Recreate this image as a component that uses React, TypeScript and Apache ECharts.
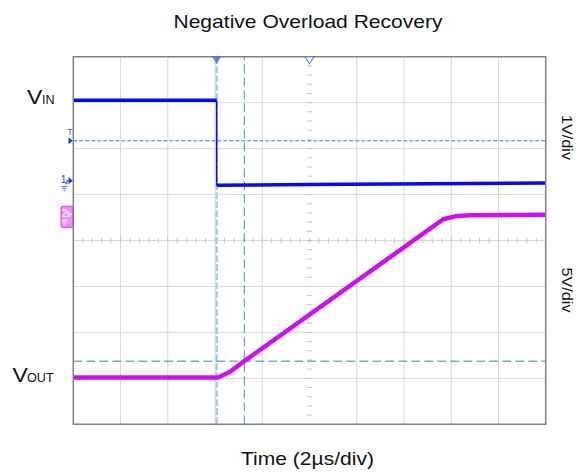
import React, { useEffect, useRef } from "react";
import * as echarts from "echarts";

// Horizontal: 2 µs/div, 10 divisions, 0 µs at screen centre
const timeRange = [-10, 10];
const timeDiv = 2;
// Channel 1 (VIN): 1 V/div, ground marker 1.3 div above centre
const vinRange = [-5.3, 2.7];
// Channel 2 (VOUT): 5 V/div, ground marker 0.57 div above centre
const voutRange = [-22.85, 17.15];
const voutDiv = 5;

// Channel 1 trace (µs, V)
const vinTime = [-10, -3.93, -3.93, 0, 10];
const vinVolts = [1.75, 1.75, -0.1, -0.08, -0.05];

// Channel 2 trace (µs, V)
const voutTime = [-10, -3.86, -3.36, -2.76, 5.66, 6.16, 6.8, 10];
const voutVolts = [-17.75, -17.75, -17.14, -15.98, -0.54, -0.22, -0.1, -0.05];

// Trigger and cursor settings
const triggerTime = -3.93;
const cursorTime = -2.76;
const triggerLevel = 0.87; // V, channel 1
const cursorLevel = -15.98; // V, channel 2

const FONT = "'Liberation Sans', Arial, sans-serif";
const GRID_COLOR = "#d9d9d9";
const VIN_COLOR = "#0808f2";
const VOUT_COLOR = "#cc10ee";
const MARK_BLUE = "#2a6fe0";

const zip = (xs: number[], ys: number[]) => xs.map((x, i) => [x, ys[i]]);

function textEl(
  text: string,
  x: number,
  y: number,
  size: number,
  opts: { align?: string; scaleX?: number; rotation?: number; fill?: string } = {}
) {
  const align = opts.align ?? "center";
  return {
    type: "text",
    x,
    y,
    scaleX: opts.scaleX ?? 1,
    rotation: opts.rotation ?? 0,
    silent: true,
    style: {
      text,
      x: 0,
      y: 0,
      fill: opts.fill ?? "#111",
      fontSize: size,
      fontFamily: FONT,
      align,
      textAlign: align,
      verticalAlign: "middle",
      textVerticalAlign: "middle",
    },
  };
}

export default function App() {
  const ref = useRef<HTMLDivElement>(null);

  useEffect(() => {
    const chart = echarts.init(ref.current!, null, { renderer: "svg" });
    const vinPoints = zip(vinTime, vinVolts);

    const option: any = {
      animation: false,
      backgroundColor: "#ffffff",
      grid: {
        left: 73.3,
        top: 56.7,
        width: 472.4,
        height: 367.6,
        show: true,
        borderColor: "#808080",
        borderWidth: 1.5,
        backgroundColor: "transparent",
        z: 10,
      },
      xAxis: {
        type: "value",
        min: timeRange[0],
        max: timeRange[1],
        interval: timeDiv,
        show: false,
      },
      yAxis: [
        { type: "value", min: vinRange[0], max: vinRange[1], interval: 1, show: false },
        { type: "value", min: voutRange[0], max: voutRange[1], interval: voutDiv, show: false },
      ],
      series: [
        {
          // graticule: division lines plus minor ticks along the centre lines
          type: "custom",
          yAxisIndex: 0,
          silent: true,
          z: 0,
          data: [[0, 0]],
          renderItem: (params: any, api: any) => {
            const children: any[] = [];
            const yTop = api.coord([0, vinRange[1]])[1];
            const yBot = api.coord([0, vinRange[0]])[1];
            const xL = api.coord([timeRange[0], 0])[0];
            const xR = api.coord([timeRange[1], 0])[0];
            const line = (x1: number, y1: number, x2: number, y2: number, color: string) =>
              children.push({
                type: "line",
                shape: { x1, y1, x2, y2 },
                style: { stroke: color, lineWidth: 1 },
              });
            for (let i = 1; i < 10; i++) {
              if (i === 5) continue;
              const x = api.coord([timeRange[0] + i * timeDiv, 0])[0];
              line(x, yTop, x, yBot, GRID_COLOR);
            }
            for (let j = 1; j < 8; j++) {
              const y = api.coord([0, vinRange[0] + j])[1];
              line(xL, y, xR, y, GRID_COLOR);
            }
            const xc = api.coord([0, 0])[0];
            const yc = api.coord([0, vinRange[0] + 4])[1];
            for (let k = 1; k < 50; k++) {
              const x = api.coord([timeRange[0] + (k * timeDiv) / 5, 0])[0];
              line(x, yc - 2.5, x, yc + 2.5, "#c4c4c4");
            }
            for (let k = 1; k < 40; k++) {
              const y = api.coord([0, vinRange[0] + k / 5])[1];
              line(xc - 2.5, y, xc + 2.5, y, "#c4c4c4");
            }
            return { type: "group", children };
          },
        },
        {
          name: "trigger position",
          type: "line",
          yAxisIndex: 0,
          z: 1,
          silent: true,
          symbol: "none",
          data: [
            [triggerTime, vinRange[0]],
            [triggerTime, vinRange[1]],
          ],
          lineStyle: { color: "#a9c9f5", width: 2.5, type: [7, 2] },
        },
        {
          name: "time cursor",
          type: "line",
          yAxisIndex: 0,
          z: 1,
          silent: true,
          symbol: "none",
          data: [
            [cursorTime, vinRange[0]],
            [cursorTime, vinRange[1]],
          ],
          lineStyle: { color: "#3d86ea", width: 1, type: [9, 4] },
        },
        {
          name: "trigger level",
          type: "line",
          yAxisIndex: 0,
          z: 1,
          silent: true,
          symbol: "none",
          data: [
            [timeRange[0], triggerLevel],
            [timeRange[1], triggerLevel],
          ],
          lineStyle: { color: "#6fa6f0", width: 1.5, type: [4, 2] },
        },
        {
          name: "level cursor",
          type: "line",
          yAxisIndex: 1,
          z: 1,
          silent: true,
          symbol: "none",
          data: [
            [timeRange[0], cursorLevel],
            [timeRange[1], cursorLevel],
          ],
          lineStyle: { color: "#3a7ade", width: 1, type: [9, 4] },
        },
        {
          // VIN high level before the step
          name: "VIN",
          type: "line",
          yAxisIndex: 0,
          z: 3,
          symbol: "none",
          data: vinPoints.slice(0, 2),
          lineStyle: { color: VIN_COLOR, width: 3.5 },
        },
        {
          // fast falling edge, thin on screen
          name: "VIN edge",
          type: "line",
          yAxisIndex: 0,
          z: 3,
          symbol: "none",
          data: vinPoints.slice(1, 3),
          lineStyle: { color: VIN_COLOR, width: 1.5 },
        },
        {
          // VIN low level after the step
          name: "VIN low",
          type: "line",
          yAxisIndex: 0,
          z: 3,
          symbol: "none",
          data: vinPoints.slice(2),
          lineStyle: { color: VIN_COLOR, width: 3.5 },
        },
        {
          name: "VOUT",
          type: "line",
          yAxisIndex: 1,
          z: 3,
          symbol: "none",
          data: zip(voutTime, voutVolts),
          lineStyle: { color: VOUT_COLOR, width: 4.5 },
        },
        {
          name: "trigger marker",
          type: "scatter",
          yAxisIndex: 0,
          z: 12,
          clip: false,
          silent: true,
          symbol: "triangle",
          symbolRotate: 180,
          symbolSize: [9, 7],
          symbolOffset: [0, 3.5],
          data: [[triggerTime, vinRange[1]]],
          itemStyle: { color: MARK_BLUE },
        },
        {
          name: "delay marker",
          type: "scatter",
          yAxisIndex: 0,
          z: 12,
          clip: false,
          silent: true,
          symbol: "triangle",
          symbolRotate: 180,
          symbolSize: [9, 7],
          symbolOffset: [0, 3.5],
          data: [[0, vinRange[1]]],
          itemStyle: { color: "#ffffff", borderColor: MARK_BLUE, borderWidth: 1 },
        },
      ],
    };
    chart.setOption(option);

    const py0 = (v: number) => chart.convertToPixel({ yAxisIndex: 0 }, v) as number;
    const py1 = (v: number) => chart.convertToPixel({ yAxisIndex: 1 }, v) as number;
    const yT = py0(triggerLevel);
    const y1 = py0(0);
    const y2 = py1(0);

    const arrow = (yy: number, color: string, x0 = 68.5) => ({
      type: "polygon",
      silent: true,
      shape: { points: [[x0, yy - 3.5], [x0 + 4.5, yy], [x0, yy + 3.5]] },
      style: { fill: color },
    });
    const gnd = (cx: number, yy: number, color: string) => ({
      type: "group",
      silent: true,
      children: [
        { type: "line", shape: { x1: cx - 3, y1: yy, x2: cx + 3, y2: yy }, style: { stroke: color, lineWidth: 1 } },
        { type: "line", shape: { x1: cx - 2, y1: yy + 2, x2: cx + 2, y2: yy + 2 }, style: { stroke: color, lineWidth: 1 } },
        { type: "line", shape: { x1: cx - 0.8, y1: yy + 4, x2: cx + 0.8, y2: yy + 4 }, style: { stroke: color, lineWidth: 1 } },
      ],
    });

    chart.setOption({
      graphic: [
        textEl("Negative Overload Recovery", 308, 22, 18, { scaleX: 1.17 }),
        textEl("Time (2µs/div)", 307.5, 458.8, 18, { scaleX: 1.17 }),
        textEl("1V/div", 567, 137.5, 14, { scaleX: 1.16, rotation: -Math.PI / 2 }),
        textEl("5V/div", 567, 290, 14, { scaleX: 1.16, rotation: -Math.PI / 2 }),
        textEl("V", 27, 97.1, 20, { align: "left", scaleX: 1.15 }),
        textEl("IN", 42, 99.8, 12, { align: "left", scaleX: 1.05 }),
        textEl("V", 12.5, 374.6, 20, { align: "left", scaleX: 1.15 }),
        textEl("OUT", 27, 378.3, 12, { align: "left", scaleX: 1.05 }),
        // trigger level marker
        textEl("T", 70, yT - 9, 9, { fill: MARK_BLUE }),
        arrow(yT, "#1a3fe8"),
        // channel 1 ground marker
        textEl("1", 63.5, y1 - 1, 10, { fill: "#1a3fe8" }),
        {
          type: "polyline",
          silent: true,
          shape: { points: [[65.5, y1 + 3], [67, y1 + 3], [67, y1], [69, y1]] },
          style: { stroke: "#1a3fe8", lineWidth: 1, fill: "none" },
        },
        arrow(y1, "#1a3fe8"),
        gnd(64.5, y1 + 6, "#3a6fe8"),
        // channel 2 ground marker
        {
          type: "rect",
          silent: true,
          shape: { x: 61, y: y2 - 8, width: 12, height: 21, r: 1.5 },
          style: { fill: "#f08cfb", stroke: "#d23cf0", lineWidth: 1 },
        },
        textEl("2", 64.5, y2 - 1, 10, { fill: "#ffffff" }),
        arrow(y2, "#ffffff", 67.5),
        gnd(64.5, y2 + 6, "#ffffff"),
      ],
    });

    return () => chart.dispose();
  }, []);

  return (
    <div
      ref={ref}
      style={{ position: "absolute", left: 0, top: 0, width: 578, height: 473 }}
    />
  );
}
